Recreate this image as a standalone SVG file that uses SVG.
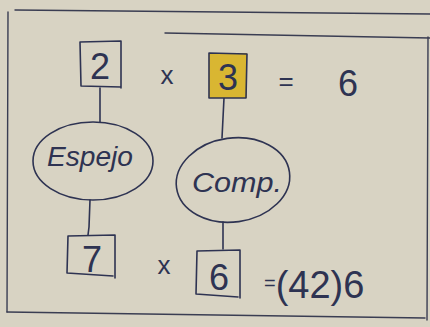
<svg xmlns="http://www.w3.org/2000/svg" width="430" height="327" viewBox="0 0 430 327">
  <defs>
    <style>
      .ink { fill: none; stroke: #2e3352; stroke-width: 1.6; stroke-linecap: round; stroke-linejoin: round; }
      .frame { fill: none; stroke: #3a3d52; stroke-width: 1.4; stroke-linecap: round; }
      .t { font-family: "Liberation Sans", "DejaVu Sans", sans-serif; fill: #2e3352; }
      .num { font-size: 36px; text-anchor: middle; }
      .op { font-size: 26px; text-anchor: middle; }
      .word { font-size: 27px; font-style: italic; text-anchor: middle; }
    </style>
  </defs>
  <rect x="0" y="0" width="430" height="327" fill="#d8d3c3"/>

  <!-- paper frame -->
  <g id="frame">
    <path class="frame" d="M15 10 L430 14"/>
    <path class="frame" d="M165 33 L430 38"/>
    <path class="frame" d="M8 12 L7 312"/>
    <path class="frame" d="M7 312 L425 318"/>
    <path class="frame" d="M428 37 L427 320"/>
  </g>

  <!-- connectors -->
  <g id="connectors">
    <path class="ink" d="M100 88 L100 122"/>
    <path class="ink" d="M224 98 L222 138"/>
    <path class="ink" d="M90 200 L89 227 L88 235"/>
    <path class="ink" d="M223 222 L223 249"/>
  </g>

  <!-- nodes -->
  <g id="n2">
    <path class="ink" d="M80 42 L121 41 L121 88 M80 42 L81 86 L121 87"/>
    <text class="t num" x="100" y="79">2</text>
  </g>
  <g id="n3">
    <rect x="209" y="53" width="38" height="45" fill="#d9b632"/>
    <path class="ink" d="M209 53 L247 54 L246 98 L209 98 Z"/>
    <text class="t num" x="228" y="90">3</text>
  </g>
  <g id="espejo">
    <ellipse class="ink" cx="93" cy="161" rx="60" ry="39"/>
    <text class="t word" x="90" y="166" textLength="86" lengthAdjust="spacingAndGlyphs">Espejo</text>
  </g>
  <g id="comp">
    <ellipse class="ink" cx="233" cy="180" rx="57" ry="42" transform="rotate(-8 233 180)"/>
    <text class="t word" x="237" y="192" textLength="90" lengthAdjust="spacingAndGlyphs">Comp.</text>
  </g>
  <g id="n7">
    <path class="ink" d="M68 236 L115 235 L115 278 M68 236 L67 273 L113 276"/>
    <text class="t num" x="92" y="272">7</text>
  </g>
  <g id="n6">
    <path class="ink" d="M197 251 L240 250 L240 298 M197 251 L196 294 L238 297"/>
    <text class="t num" x="219" y="290">6</text>
  </g>

  <!-- operators and results -->
  <g id="labels">
    <text class="t op" x="167" y="84">x</text>
    <text class="t op" x="286" y="90">=</text>
    <text class="t num" x="348" y="96">6</text>
    <text class="t op" x="164" y="274">x</text>
    <text class="t" x="264" y="298"><tspan font-size="20" dy="-8">=</tspan><tspan font-size="38" dy="8">(42)6</tspan></text>
  </g>
</svg>
